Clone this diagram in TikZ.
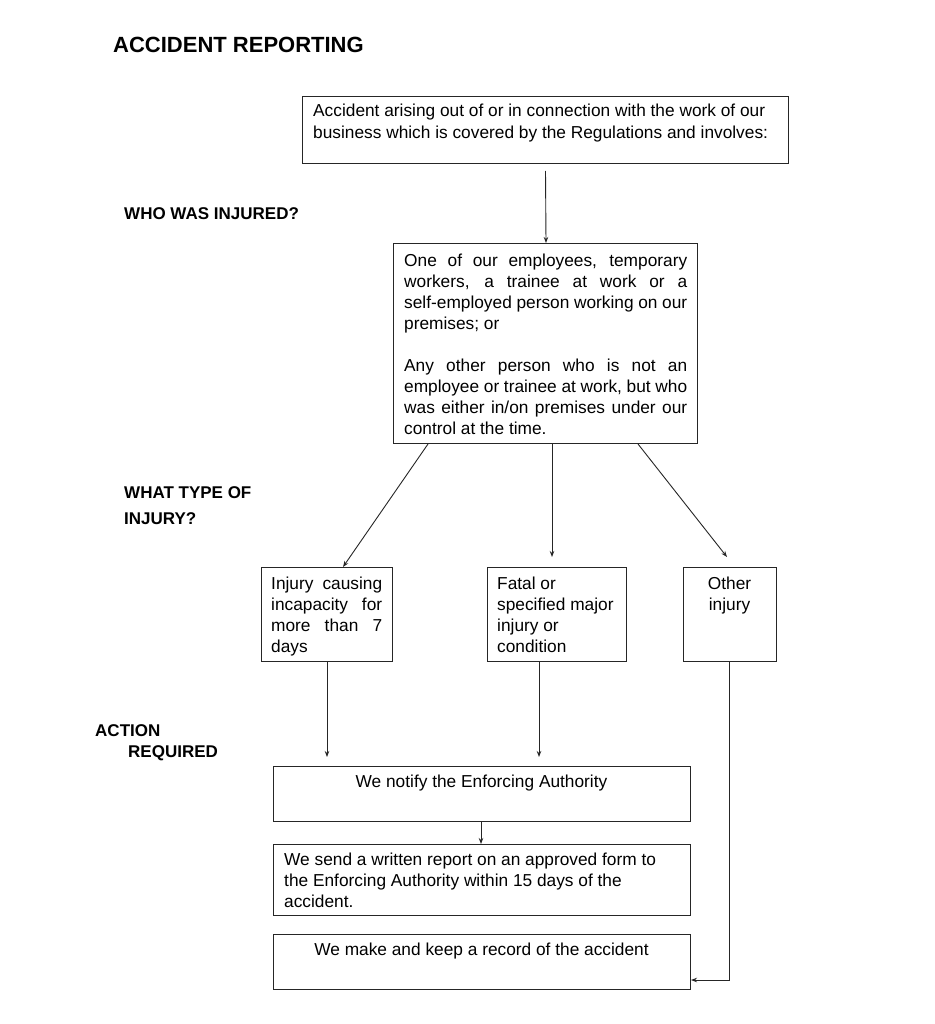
\documentclass[tikz,border=0pt]{standalone}
\usepackage{fontspec}
\setmainfont{Liberation Sans}
\usetikzlibrary{arrows.meta}
\begin{document}
\begin{tikzpicture}[x=1pt,y=-1pt,
  box/.style={draw=black!85, line width=1pt, inner sep=0, anchor=north west},
  txt/.style={inner sep=0, anchor=base west, font=\fontsize{17.3}{21}\selectfont},
  ctxt/.style={inner sep=0, anchor=base, font=\fontsize{17.3}{21}\selectfont},
  lbl/.style={inner sep=0, anchor=base west, font=\fontsize{17}{21}\selectfont\bfseries},
  arr/.style={draw=black!85, line width=0.9pt, -{Stealth[length=6pt,width=4.5pt]}},
  ln/.style={draw=black!85, line width=0.9pt}]
\useasboundingbox[fill=white] (0,0) rectangle (934,1024);

% title and side labels
\node[inner sep=0, anchor=base west, font=\fontsize{22}{26}\selectfont\bfseries] (title) at (113,53) {ACCIDENT REPORTING};
\node[lbl] (who) at (124,220) {WHO WAS INJURED?};
\node[lbl] (what1) at (124,498) {WHAT TYPE OF};
\node[lbl] (what2) at (124,524) {INJURY?};
\node[lbl] (act1) at (95,736) {ACTION};
\node[lbl] (act2) at (128,757) {REQUIRED};

% boxes
\node[box, minimum width=486, minimum height=67] (b1) at (302,96) {};
\node[box, minimum width=304, minimum height=200] (b2) at (393,243) {};
\node[box, minimum width=131, minimum height=94] (b3) at (261,567) {};
\node[box, minimum width=139, minimum height=94] (b4) at (487,567) {};
\node[box, minimum width=93, minimum height=94] (b5) at (683,567) {};
\node[box, minimum width=417, minimum height=55] (b6) at (273,766) {};
\node[box, minimum width=417, minimum height=71] (b7) at (273,844) {};
\node[box, minimum width=417, minimum height=55] (b8) at (273,934) {};

% box 1 text
\node[txt] (t1a) at (313,117) {Accident arising out of or in connection with the work of our};
\node[txt] (t1b) at (313,138.5) {business which is covered by the Regulations and involves:};

% box 2 text
\node[txt] (t2a) at (404,266.5) {\makebox[283pt][s]{One of our employees, temporary}};
\node[txt] (t2b) at (404,287.5) {\makebox[283pt][s]{workers, a trainee at work or a}};
\node[txt] (t2c) at (404,308.5) {\makebox[283pt][s]{self-employed person working on our}};
\node[txt] (t2d) at (404,329.5) {premises; or};
\node[txt] (t2e) at (404,371) {\makebox[283pt][s]{Any other person who is not an}};
\node[txt] (t2f) at (404,392) {\makebox[283pt][s]{employee or trainee at work, but who}};
\node[txt] (t2g) at (404,413) {\makebox[283pt][s]{was either in/on premises under our}};
\node[txt] (t2h) at (404,434) {control at the time.};

% box 3 text
\node[txt] (t3a) at (271,589.5) {\makebox[111pt][s]{Injury causing}};
\node[txt] (t3b) at (271,610.5) {\makebox[111pt][s]{incapacity for}};
\node[txt] (t3c) at (271,631) {\makebox[111pt][s]{more than 7}};
\node[txt] (t3d) at (271,652) {days};

% box 4 text
\node[txt] (t4a) at (497,589.5) {Fatal or};
\node[txt] (t4b) at (497,610.5) {specified major};
\node[txt] (t4c) at (497,631) {injury or};
\node[txt] (t4d) at (497,652) {condition};

% box 5 text
\node[ctxt] (t5a) at (729.5,589.5) {Other};
\node[ctxt] (t5b) at (729.5,610.5) {injury};

% action boxes text
\node[ctxt] (t6) at (481.5,787) {We notify the Enforcing Authority};
\node[txt] (t7a) at (284,865) {We send a written report on an approved form to};
\node[txt] (t7b) at (284,886.5) {the Enforcing Authority within 15 days of the};
\node[txt] (t7c) at (284,907) {accident.};
\node[ctxt] (t8) at (481.5,955) {We make and keep a record of the accident};

% connectors
\coordinate (s1) at (545.5,171);
\draw[arr] (s1) -- (b2.north -| 546,0);
\draw[arr] (b2.south -| 428,0) -- (b3.north -| 343,0);
\draw[arr] (b2.south -| 552,0) -- (552,557);
\draw[arr] (b2.south -| 638,0) -- (727,557);
\draw[arr] (b3.south -| 327,0) -- (327,757);
\draw[arr] (b4.south -| 539,0) -- (539,757);
\draw[arr] (b6.south -| 481,0) -- (b7.north -| 481,0);
\coordinate (c8) at (729,980);
\draw[arr] (b5.south -| 729,0) -- (c8) -- (b8.east |- c8);
\end{tikzpicture}
\end{document}
